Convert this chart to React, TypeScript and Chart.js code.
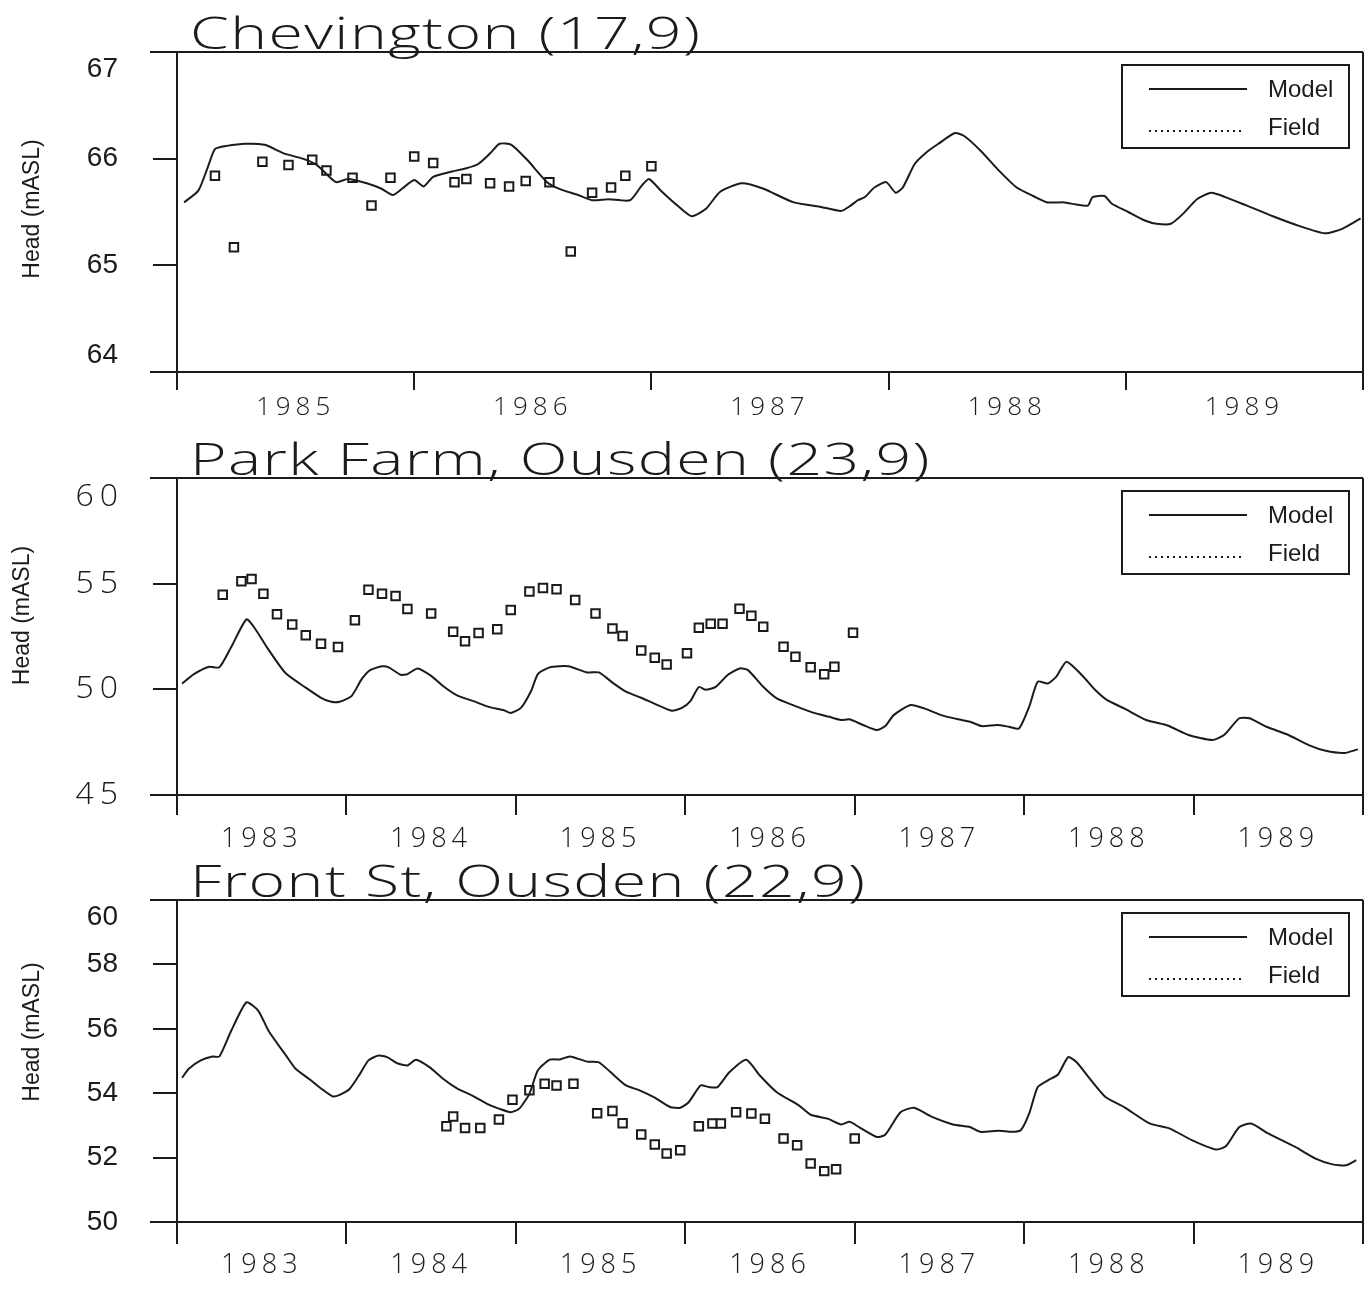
import React, { useEffect, useRef } from 'react';
import { Chart, registerables } from 'chart.js';

Chart.register(...registerables);

// ---------------- Data: Chevington (17,9) ----------------
const chevTitle = 'Chevington (17,9)';
const chevYears = [1985, 1986, 1987, 1988, 1989];
const chevHeadTicks = [64, 65, 66, 67];
const chevModelT = [
  1985.03, 1985.09, 1985.13, 1985.16, 1985.21, 1985.29, 1985.37, 1985.45, 1985.53, 1985.59,
  1985.67, 1985.72, 1985.80, 1985.86, 1985.91, 1985.95, 1986.00, 1986.04, 1986.08, 1986.16,
  1986.22, 1986.27, 1986.32, 1986.36, 1986.41, 1986.48, 1986.56, 1986.62, 1986.69, 1986.75,
  1986.82, 1986.91, 1986.96, 1986.99, 1987.04, 1987.11, 1987.17, 1987.23, 1987.29, 1987.38,
  1987.47, 1987.60, 1987.71, 1987.80, 1987.84, 1987.87, 1987.90, 1987.94, 1987.99, 1988.03,
  1988.06, 1988.11, 1988.16, 1988.21, 1988.28, 1988.32, 1988.39, 1988.46, 1988.54, 1988.61,
  1988.67, 1988.74, 1988.79, 1988.84, 1988.86, 1988.91, 1988.94, 1989.01, 1989.08, 1989.13,
  1989.19, 1989.24, 1989.30, 1989.36, 1989.42, 1989.51, 1989.62, 1989.73, 1989.84, 1989.91,
  1989.99,
];
const chevModelHead = [
  65.59, 65.70, 65.92, 66.09, 66.12, 66.14, 66.13, 66.05, 66.00, 65.94,
  65.78, 65.81, 65.77, 65.72, 65.66, 65.72, 65.80, 65.74, 65.83, 65.88,
  65.91, 65.95, 66.05, 66.14, 66.13, 65.98, 65.78, 65.71, 65.66, 65.61,
  65.62, 65.61, 65.75, 65.81, 65.70, 65.56, 65.46, 65.53, 65.69, 65.77,
  65.72, 65.59, 65.55, 65.51, 65.56, 65.61, 65.64, 65.73, 65.78, 65.68,
  65.73, 65.95, 66.06, 66.14, 66.24, 66.21, 66.07, 65.90, 65.73, 65.65,
  65.59, 65.59, 65.57, 65.56, 65.64, 65.65, 65.58, 65.50, 65.42, 65.39,
  65.39, 65.48, 65.62, 65.68, 65.64, 65.56, 65.46, 65.37, 65.30, 65.34,
  65.44,
];
const chevFieldT = [
  1985.16, 1985.24, 1985.36, 1985.47, 1985.57, 1985.63, 1985.74, 1985.82, 1985.90, 1986.00,
  1986.08, 1986.17, 1986.22, 1986.32, 1986.40, 1986.47, 1986.57, 1986.66, 1986.75, 1986.83,
  1986.89, 1987.00,
];
const chevFieldHead = [
  65.84, 65.17, 65.97, 65.94, 65.99, 65.89, 65.82, 65.56, 65.82, 66.02,
  65.96, 65.78, 65.81, 65.77, 65.74, 65.79, 65.78, 65.13, 65.68, 65.73,
  65.84, 65.93,
];

// ---------------- Data: Park Farm, Ousden (23,9) ----------------
const parkTitle = 'Park Farm, Ousden (23,9)';
const parkYears = [1983, 1984, 1985, 1986, 1987, 1988, 1989];
const parkHeadTicks = [45, 50, 55, 60];
const parkModelT = [
  1983.03, 1983.10, 1983.19, 1983.25, 1983.32, 1983.41, 1983.46, 1983.53, 1983.64, 1983.76,
  1983.85, 1983.91, 1983.96, 1984.03, 1984.09, 1984.14, 1984.21, 1984.25, 1984.32, 1984.36,
  1984.42, 1984.50, 1984.57, 1984.65, 1984.75, 1984.84, 1984.93, 1984.97, 1985.03, 1985.09,
  1985.13, 1985.20, 1985.31, 1985.42, 1985.49, 1985.57, 1985.65, 1985.74, 1985.83, 1985.92,
  1985.98, 1986.03, 1986.08, 1986.12, 1986.18, 1986.25, 1986.32, 1986.37, 1986.46, 1986.54,
  1986.62, 1986.75, 1986.85, 1986.92, 1986.97, 1987.05, 1987.13, 1987.18, 1987.23, 1987.33,
  1987.41, 1987.51, 1987.61, 1987.68, 1987.75, 1987.84, 1987.91, 1987.97, 1988.03, 1988.08,
  1988.14, 1988.19, 1988.25, 1988.34, 1988.42, 1988.49, 1988.59, 1988.72, 1988.85, 1988.97,
  1989.11, 1989.18, 1989.27, 1989.33, 1989.43, 1989.56, 1989.68, 1989.78, 1989.89, 1989.97,
];
const parkModelHead = [
  50.27, 50.72, 51.07, 51.04, 52.00, 53.31, 52.88, 52.00, 50.77, 50.08,
  49.60, 49.41, 49.41, 49.68, 50.48, 50.91, 51.09, 51.04, 50.69, 50.72,
  50.99, 50.64, 50.16, 49.73, 49.44, 49.17, 49.01, 48.88, 49.12, 49.92,
  50.72, 51.04, 51.09, 50.80, 50.80, 50.32, 49.89, 49.60, 49.28, 48.99,
  49.12, 49.44, 50.11, 49.98, 50.12, 50.68, 50.99, 50.91, 50.12, 49.57,
  49.30, 48.91, 48.70, 48.55, 48.58, 48.31, 48.07, 48.26, 48.78, 49.26,
  49.10, 48.78, 48.58, 48.47, 48.26, 48.31, 48.23, 48.15, 49.18, 50.36,
  50.28, 50.60, 51.31, 50.68, 49.97, 49.49, 49.10, 48.55, 48.28, 47.84,
  47.60, 47.84, 48.63, 48.63, 48.23, 47.84, 47.36, 47.09, 46.99, 47.16,
];
const parkFieldT = [
  1983.27, 1983.38, 1983.44, 1983.51, 1983.59, 1983.68, 1983.76, 1983.85, 1983.95, 1984.05,
  1984.13, 1984.21, 1984.29, 1984.36, 1984.50, 1984.63, 1984.70, 1984.78, 1984.89, 1984.97,
  1985.08, 1985.16, 1985.24, 1985.35, 1985.47, 1985.57, 1985.63, 1985.74, 1985.82, 1985.89,
  1986.01, 1986.08, 1986.15, 1986.22, 1986.32, 1986.39, 1986.46, 1986.58, 1986.65, 1986.74,
  1986.82, 1986.88, 1986.99,
];
const parkFieldHead = [
  54.47, 55.11, 55.22, 54.52, 53.55, 53.07, 52.56, 52.16, 52.00, 53.27,
  54.71, 54.52, 54.42, 53.80, 53.59, 52.72, 52.27, 52.67, 52.84, 53.75,
  54.63, 54.79, 54.74, 54.23, 53.59, 52.88, 52.52, 51.84, 51.49, 51.17,
  51.71, 52.91, 53.10, 53.10, 53.81, 53.48, 52.96, 52.02, 51.54, 51.04,
  50.71, 51.07, 52.68,
];

// ---------------- Data: Front St, Ousden (22,9) ----------------
const frontTitle = 'Front St, Ousden (22,9)';
const frontYears = [1983, 1984, 1985, 1986, 1987, 1988, 1989];
const frontHeadTicks = [50, 52, 54, 56, 58, 60];
const frontModelT = [
  1983.03, 1983.07, 1983.14, 1983.21, 1983.25, 1983.32, 1983.41, 1983.48, 1983.54, 1983.65,
  1983.70, 1983.79, 1983.86, 1983.92, 1983.96, 1984.02, 1984.08, 1984.13, 1984.19, 1984.24,
  1984.30, 1984.36, 1984.41, 1984.49, 1984.57, 1984.65, 1984.74, 1984.83, 1984.90, 1984.97,
  1985.02, 1985.08, 1985.13, 1985.20, 1985.26, 1985.32, 1985.42, 1985.49, 1985.56, 1985.65,
  1985.73, 1985.82, 1985.91, 1985.97, 1986.02, 1986.09, 1986.14, 1986.19, 1986.26, 1986.36,
  1986.44, 1986.54, 1986.67, 1986.74, 1986.84, 1986.92, 1986.97, 1987.03, 1987.13, 1987.18,
  1987.27, 1987.35, 1987.45, 1987.58, 1987.68, 1987.74, 1987.85, 1987.93, 1987.98, 1988.03,
  1988.08, 1988.14, 1988.20, 1988.26, 1988.31, 1988.38, 1988.48, 1988.59, 1988.74, 1988.86,
  1988.99, 1989.13, 1989.19, 1989.27, 1989.34, 1989.44, 1989.60, 1989.72, 1989.82, 1989.90,
  1989.96,
];
const frontModelHead = [
  54.48, 54.76, 55.02, 55.14, 55.14, 55.94, 56.82, 56.56, 55.94, 55.12,
  54.76, 54.40, 54.11, 53.90, 53.95, 54.14, 54.60, 55.02, 55.17, 55.12,
  54.93, 54.86, 55.04, 54.81, 54.45, 54.16, 53.93, 53.67, 53.52, 53.41,
  53.52, 53.98, 54.71, 55.04, 55.05, 55.14, 54.98, 54.96, 54.65, 54.24,
  54.09, 53.86, 53.57, 53.55, 53.72, 54.24, 54.19, 54.19, 54.65, 55.04,
  54.55, 54.03, 53.62, 53.33, 53.21, 53.03, 53.11, 52.93, 52.64, 52.71,
  53.41, 53.55, 53.28, 53.03, 52.95, 52.80, 52.83, 52.80, 52.85, 53.37,
  54.19, 54.40, 54.58, 55.12, 54.96, 54.50, 53.88, 53.57, 53.06, 52.90,
  52.54, 52.25, 52.35, 52.95, 53.06, 52.75, 52.33, 51.97, 51.79, 51.76,
  51.92,
];
const frontFieldT = [
  1984.59, 1984.63, 1984.70, 1984.79, 1984.90, 1984.98, 1985.08, 1985.17, 1985.24, 1985.34,
  1985.48, 1985.57, 1985.63, 1985.74, 1985.82, 1985.89, 1985.97, 1986.08, 1986.16, 1986.21,
  1986.30, 1986.39, 1986.47, 1986.58, 1986.66, 1986.74, 1986.82, 1986.89, 1987.00,
];
const frontFieldHead = [
  52.97, 53.28, 52.92, 52.92, 53.18, 53.80, 54.09, 54.29, 54.24, 54.29,
  53.38, 53.45, 53.07, 52.72, 52.41, 52.13, 52.23, 52.97, 53.06, 53.06,
  53.41, 53.37, 53.21, 52.59, 52.38, 51.82, 51.58, 51.64, 52.59,
];

const seriesLabels = ['Model', 'Field'];
const yAxisTitle = 'Head (mASL)';

// ---------------- Styles ----------------
const INK = '#1b1b1b';
const STROKE_FONT = "'Open Sans', 'DejaVu Sans', sans-serif";
const ARIAL = "'Liberation Sans', Arial, sans-serif";
const NARROW = "'Liberation Sans Narrow', 'Liberation Sans', Arial, sans-serif";
const PAGE_W = 1371;
const AREA_LEFT = 177;
const AREA_RIGHT_PAD = 7;

type Spec = {
  title: string;
  years: number[];
  headTicks: number[];
  modelT: number[];
  modelHead: number[];
  fieldT: number[];
  fieldHead: number[];
  height: number;
  areaTop: number;
  areaBottom: number;
  yFont: any;
  ySpacing: number;
  yPad: number;
  shiftBottom: boolean;
  xFont: any;
  xSpacing: number;
  xPad: number;
  xTickLength: number;
  yTitleX: number;
  yTitleDy: number;
};

const panels: Spec[] = [
  {
    title: chevTitle, years: chevYears, headTicks: chevHeadTicks,
    modelT: chevModelT, modelHead: chevModelHead, fieldT: chevFieldT, fieldHead: chevFieldHead,
    height: 430, areaTop: 52, areaBottom: 372,
    yFont: { family: NARROW, size: 28, weight: 'normal' }, ySpacing: 0, yPad: 35, shiftBottom: true,
    xFont: { family: STROKE_FONT, size: 26, weight: '300' }, xSpacing: 5, xPad: 2, xTickLength: 18,
    yTitleX: 33, yTitleDy: -3,
  },
  {
    title: parkTitle, years: parkYears, headTicks: parkHeadTicks,
    modelT: parkModelT, modelHead: parkModelHead, fieldT: parkFieldT, fieldHead: parkFieldHead,
    height: 428, areaTop: 48, areaBottom: 365,
    yFont: { family: STROKE_FONT, size: 32, weight: '300' }, ySpacing: 6, yPad: 29, shiftBottom: false,
    xFont: { family: STROKE_FONT, size: 27, weight: '300' }, xSpacing: 5, xPad: 8, xTickLength: 20,
    yTitleX: 23, yTitleDy: -21,
  },
  {
    title: frontTitle, years: frontYears, headTicks: frontHeadTicks,
    modelT: frontModelT, modelHead: frontModelHead, fieldT: frontFieldT, fieldHead: frontFieldHead,
    height: 431, areaTop: 42, areaBottom: 364,
    yFont: { family: NARROW, size: 28, weight: 'normal' }, ySpacing: 0, yPad: 35, shiftBottom: false,
    xFont: { family: STROKE_FONT, size: 27, weight: '300' }, xSpacing: 5, xPad: 5, xTickLength: 22,
    yTitleX: 33, yTitleDy: -29,
  },
];

// Tick labels of the time axis sit mid-year; tick marks sit on year boundaries.
function yearTicks(years: number[]) {
  const out: { value: number }[] = [];
  years.forEach((y) => {
    out.push({ value: y });
    out.push({ value: y + 0.5 });
  });
  out.push({ value: years[years.length - 1] + 1 });
  return out;
}

function spacedLabels(px: number) {
  return (scale: any) => {
    if (!px || scale.__spaced) return;
    const original = scale.drawLabels.bind(scale);
    scale.drawLabels = (area: any) => {
      const ctx = scale.ctx;
      const prev = ctx.letterSpacing;
      ctx.letterSpacing = px + 'px';
      original(area);
      ctx.letterSpacing = prev || '0px';
    };
    scale.__spaced = true;
  };
}

function makeDecor(spec: Spec) {
  return {
    id: 'decor',
    afterDraw(chart: any) {
      const { ctx, chartArea: a } = chart;
      ctx.save();
      ctx.letterSpacing = '0px';
      ctx.strokeStyle = INK;
      ctx.fillStyle = INK;
      ctx.lineWidth = 2;
      ctx.setLineDash([]);

      // frame: top, bottom (extended left past the axis), right
      ctx.beginPath();
      ctx.moveTo(a.left - 27, a.top);
      ctx.lineTo(a.right, a.top);
      ctx.moveTo(a.left - 27, a.bottom);
      ctx.lineTo(a.right, a.bottom);
      ctx.moveTo(a.right, a.top);
      ctx.lineTo(a.right, a.bottom);
      ctx.stroke();

      // panel title
      ctx.save();
      ctx.translate(a.left + 13, a.top - 3);
      ctx.scale(1.42, 1);
      ctx.font = `300 44px ${STROKE_FONT}`;
      ctx.letterSpacing = '1px';
      ctx.textAlign = 'left';
      ctx.textBaseline = 'alphabetic';
      ctx.fillText(spec.title, 0, 0);
      ctx.restore();

      // y-axis title
      ctx.save();
      ctx.translate(spec.yTitleX, (a.top + a.bottom) / 2 + spec.yTitleDy);
      ctx.rotate(-Math.PI / 2);
      ctx.font = `23px ${ARIAL}`;
      ctx.textAlign = 'center';
      ctx.textBaseline = 'middle';
      ctx.fillText(yAxisTitle, 0, 0);
      ctx.restore();

      // legend box
      const bw = 227;
      const bh = 83;
      const bx = a.right - 14 - bw;
      const by = a.top + 13;
      ctx.lineWidth = 2;
      ctx.strokeRect(bx, by, bw, bh);
      const ds = chart.data.datasets;
      ctx.beginPath();
      ctx.moveTo(bx + 27, by + 24);
      ctx.lineTo(bx + 125, by + 24);
      ctx.stroke();
      ctx.save();
      ctx.setLineDash([2, 4]);
      ctx.lineWidth = 1.8;
      ctx.beginPath();
      ctx.moveTo(bx + 27, by + 66);
      ctx.lineTo(bx + 120, by + 66);
      ctx.stroke();
      ctx.restore();
      ctx.font = `24px ${ARIAL}`;
      ctx.textAlign = 'left';
      ctx.textBaseline = 'middle';
      ctx.fillText(ds[0].label, bx + 146, by + 25);
      ctx.fillText(ds[1].label, bx + 146, by + 63);
      ctx.restore();
    },
  };
}

function buildConfig(spec: Spec): any {
  const boundaryColor = (c: any) =>
    c.tick && Number.isInteger(c.tick.value) ? INK : 'rgba(0,0,0,0)';
  const lastYear = spec.years[spec.years.length - 1];
  const topTick = spec.headTicks[spec.headTicks.length - 1];
  const bottomTick = spec.headTicks[0];
  return {
    type: 'line',
    data: {
      datasets: [
        {
          label: seriesLabels[0],
          data: spec.modelT.map((t, i) => ({ x: t, y: spec.modelHead[i] })),
          borderColor: INK,
          borderWidth: 2,
          pointRadius: 0,
          tension: 0.2,
          fill: false,
        },
        {
          label: seriesLabels[1],
          data: spec.fieldT.map((t, i) => ({ x: t, y: spec.fieldHead[i] })),
          showLine: false,
          pointStyle: 'rect',
          pointRadius: 6,
          pointBorderWidth: 2,
          borderColor: INK,
          pointBorderColor: INK,
          pointBackgroundColor: '#ffffff',
          backgroundColor: '#ffffff',
        },
      ],
    },
    options: {
      responsive: false,
      animation: false,
      devicePixelRatio: 1,
      events: [],
      layout: { padding: { top: spec.areaTop, right: AREA_RIGHT_PAD, left: 0, bottom: 0 } },
      plugins: {
        legend: { display: false },
        title: { display: false },
        tooltip: { enabled: false },
      },
      scales: {
        x: {
          type: 'linear',
          min: spec.years[0],
          max: lastYear + 1,
          afterBuildTicks: (axis: any) => {
            axis.ticks = yearTicks(spec.years);
          },
          afterFit: (axis: any) => {
            axis.height = spec.height - spec.areaBottom;
            axis.paddingLeft = 0;
            axis.paddingRight = 0;
            axis.paddingTop = 0;
            axis.paddingBottom = 0;
          },
          afterUpdate: spacedLabels(spec.xSpacing),
          grid: {
            drawOnChartArea: false,
            drawTicks: true,
            tickLength: spec.xTickLength,
            lineWidth: 2,
            color: boundaryColor,
            tickColor: boundaryColor,
          },
          border: { display: false },
          ticks: {
            autoSkip: false,
            maxRotation: 0,
            minRotation: 0,
            padding: spec.xPad,
            color: INK,
            font: spec.xFont,
            callback: (v: number) => {
              const y = spec.years.find((yr) => yr + 0.5 === v);
              return y === undefined ? '' : String(y);
            },
          },
        },
        y: {
          type: 'linear',
          min: bottomTick,
          max: topTick,
          afterBuildTicks: (axis: any) => {
            axis.ticks = spec.headTicks.map((v) => ({ value: v }));
          },
          afterFit: (axis: any) => {
            axis.width = AREA_LEFT;
            axis.paddingLeft = 0;
            axis.paddingRight = 0;
            axis.paddingTop = 0;
            axis.paddingBottom = 0;
          },
          afterUpdate: spacedLabels(spec.ySpacing),
          grid: {
            drawOnChartArea: false,
            tickLength: 24,
            lineWidth: 2,
            color: INK,
          },
          border: { display: true, color: INK, width: 2 },
          ticks: {
            autoSkip: false,
            padding: spec.yPad,
            color: INK,
            font: spec.yFont,
            callback: (v: number) => {
              if (v === topTick) return ['', String(v)];
              if (spec.shiftBottom && v === bottomTick) return [String(v), ''];
              return String(v);
            },
          },
        },
      },
    },
    plugins: [makeDecor(spec)],
  };
}

function Panel({ spec }: { spec: Spec }) {
  const ref = useRef<HTMLCanvasElement | null>(null);
  useEffect(() => {
    if (!ref.current) return;
    const chart = new Chart(ref.current, buildConfig(spec));
    return () => chart.destroy();
  }, [spec]);
  return (
    <canvas
      ref={ref}
      width={PAGE_W}
      height={spec.height}
      style={{ display: 'block', width: PAGE_W, height: spec.height }}
    />
  );
}

export default function App() {
  useEffect(() => {
    document.body.style.margin = '0';
    document.body.style.background = '#ffffff';
  }, []);
  return (
    <div style={{ width: PAGE_W, background: '#ffffff' }}>
      {panels.map((p) => (
        <Panel key={p.title} spec={p} />
      ))}
    </div>
  );
}
